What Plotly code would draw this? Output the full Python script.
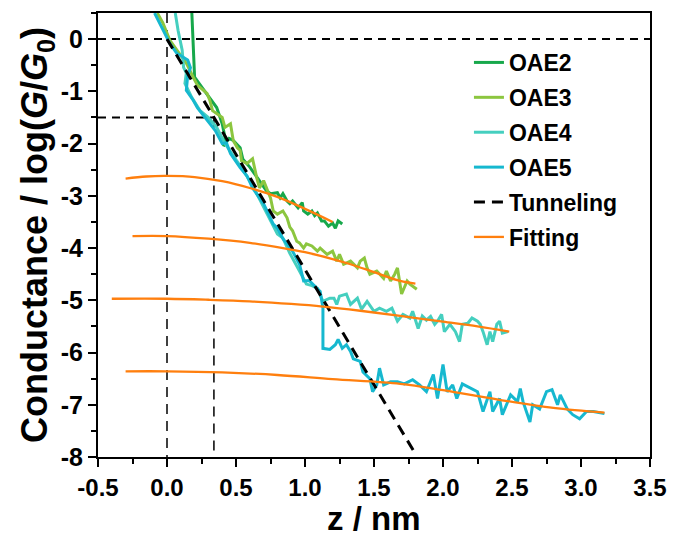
import plotly.graph_objects as go

# ---------------- data ----------------
oae2_x = [0.18, 0.19, 0.20, 0.26, 0.30, 0.36, 0.40, 0.42, 0.41, 0.45, 0.48, 0.53, 0.55, 0.60, 0.64,
          0.68, 0.72, 0.75, 0.80, 0.82, 0.84, 0.87, 0.89, 0.91, 0.95, 0.98, 0.99, 1.02, 1.05, 1.07,
          1.09, 1.12, 1.14, 1.17, 1.20, 1.22, 1.24, 1.27]
oae2_y = [0.5, -0.2, -0.73, -0.95, -1.1, -1.31, -1.62, -1.88, -2.05, -1.9, -1.94, -2.08, -2.3, -2.45, -2.6,
          -2.75, -2.9, -2.96, -2.94, -3.04, -2.96, -3.1, -3.15, -3.1, -3.23, -3.13, -3.29, -3.35, -3.29, -3.38,
          -3.33, -3.48, -3.48, -3.58, -3.52, -3.62, -3.48, -3.54]

oae3_x = [-0.07, -0.03, 0.02, 0.07, 0.14, 0.19, 0.22, 0.29, 0.31, 0.33, 0.40, 0.42, 0.46, 0.48, 0.51,
          0.53, 0.54, 0.58, 0.62, 0.65, 0.67, 0.70, 0.72, 0.75, 0.77, 0.80, 0.84, 0.87, 0.89, 0.91,
          0.94, 0.96, 0.99, 1.01, 1.05, 1.09, 1.11, 1.16, 1.20, 1.23, 1.25, 1.28, 1.33, 1.38, 1.40,
          1.43, 1.45, 1.47, 1.52, 1.57, 1.59, 1.62, 1.65, 1.67, 1.70, 1.74, 1.76, 1.81]
oae3_y = [0.5, 0.31, -0.02, -0.21, -0.46, -0.73, -0.88, -1.04, -1.17, -1.37, -1.5, -1.69, -1.62, -1.94, -2.08,
          -2.13, -2.33, -2.38, -2.29, -2.65, -2.85, -2.71, -2.85, -3.04, -3.29, -3.35, -3.29, -3.42, -3.6, -3.67,
          -3.87, -3.9, -4.0, -3.92, -3.96, -4.06, -4.0, -4.12, -4.06, -4.25, -4.12, -4.31, -4.25, -4.38, -4.25,
          -4.19, -4.38, -4.5, -4.44, -4.58, -4.44, -4.63, -4.5, -4.38, -4.88, -4.63, -4.69, -4.79]

oae4_x = [0.06, 0.08, 0.11, 0.12, 0.14, 0.13, 0.18, 0.24, 0.30, 0.36, 0.42, 0.49, 0.55, 0.62, 0.68,
          0.74, 0.80, 0.84, 0.89, 0.96, 1.01, 1.05, 1.09, 1.13, 1.18, 1.21, 1.23, 1.25, 1.30, 1.33,
          1.38, 1.41, 1.45, 1.50, 1.54, 1.59, 1.63, 1.67, 1.71, 1.76, 1.78, 1.82, 1.85, 1.88, 1.91,
          1.94, 1.96, 1.99, 2.01, 2.05, 2.09, 2.12, 2.14, 2.18, 2.21, 2.25, 2.27, 2.29, 2.32, 2.34,
          2.36, 2.39, 2.41, 2.43, 2.47]
oae4_y = [0.5, 0.17, -0.21, -0.54, -0.65, -0.85, -1.12, -1.37, -1.5, -1.69, -2.0, -2.27, -2.5, -2.8, -3.1,
          -3.4, -3.73, -3.81, -4.1, -4.44, -4.69, -4.72, -4.77, -5.02, -4.96, -4.96, -5.08, -4.92, -4.88, -5.08,
          -4.96, -5.17, -5.02, -5.21, -5.15, -5.21, -5.15, -5.4, -5.27, -5.34, -5.21, -5.54, -5.3, -5.38, -5.31,
          -5.46, -5.4, -5.27, -5.6, -5.46, -5.6, -5.79, -5.46, -5.44, -5.34, -5.4, -5.46, -5.6, -5.85, -5.6,
          -5.79, -5.46, -5.4, -5.63, -5.6]

oae5_x = [-0.09, -0.05, -0.01, 0.02, 0.07, 0.11, 0.15, 0.17, 0.15, 0.14, 0.19, 0.22, 0.29, 0.35, 0.40,
          0.43, 0.46, 0.53, 0.58, 0.62, 0.67, 0.70, 0.77, 0.80, 0.84, 0.89, 0.91, 0.96, 0.99, 1.03,
          1.06, 1.11, 1.13, 1.13, 1.18, 1.22, 1.24, 1.27, 1.30, 1.33, 1.35, 1.40, 1.42, 1.47, 1.49,
          1.52, 1.54, 1.57, 1.62, 1.67, 1.72, 1.78, 1.83, 1.88, 1.93, 1.96, 2.00, 2.03, 2.07, 2.10,
          2.14, 2.20, 2.25, 2.29, 2.34, 2.36, 2.41, 2.43, 2.49, 2.54, 2.56, 2.58, 2.63, 2.65, 2.70,
          2.75, 2.79, 2.83, 2.85, 2.90, 2.94, 2.99, 3.04, 3.09, 3.17]
oae5_y = [0.5, 0.3, 0.08, -0.08, -0.27, -0.33, -0.4, -0.55, -0.7, -0.98, -1.17, -1.31, -1.56, -1.75, -2.0,
          -1.98, -2.19, -2.46, -2.62, -2.85, -3.04, -3.15, -3.54, -3.62, -3.82, -4.0, -4.06, -4.31, -4.63, -4.62,
          -4.7, -4.83, -5.15, -5.92, -5.94, -5.85, -5.75, -5.92, -5.85, -5.98, -6.12, -6.17, -6.37, -6.5, -6.75,
          -6.62, -6.3, -6.62, -6.56, -6.56, -6.6, -6.52, -6.62, -6.75, -6.42, -6.88, -6.23, -6.75, -6.62, -6.88,
          -6.6, -6.69, -6.75, -7.13, -6.75, -7.13, -6.88, -7.19, -6.81, -6.94, -6.69, -6.94, -7.33, -7.0, -7.08,
          -6.75, -6.71, -7.0, -6.81, -7.08, -7.19, -7.27, -7.13, -7.13, -7.17]

tunnel_x = [0.0, 1.8]
tunnel_y = [0.0, -7.94]

fit1_x = [-0.30, -0.15, 0.0, 0.2, 0.4, 0.6, 0.8, 1.0, 1.2]
fit1_y = [-2.67, -2.63, -2.62, -2.64, -2.72, -2.85, -3.02, -3.25, -3.5]
fit2_x = [-0.25, 0.0, 0.3, 0.6, 0.84, 1.0, 1.2, 1.33, 1.5, 1.69, 1.80]
fit2_y = [-3.77, -3.77, -3.82, -3.9, -4.0, -4.08, -4.21, -4.31, -4.46, -4.63, -4.68]
fit3_x = [-0.40, 0.0, 0.3, 0.6, 0.9, 1.13, 1.4, 1.69, 2.0, 2.25, 2.48]
fit3_y = [-4.97, -4.97, -4.99, -5.02, -5.07, -5.12, -5.2, -5.3, -5.41, -5.5, -5.6]
fit4_x = [-0.30, 0.0, 0.4, 0.8, 1.2, 1.69, 2.0, 2.4, 2.8, 3.17]
fit4_y = [-6.36, -6.36, -6.38, -6.43, -6.51, -6.6, -6.72, -6.9, -7.06, -7.15]

guide_h = [(0.0, -0.5, 3.5), (-1.5, -0.5, 0.34)]   # y, x0, x1
guide_v = [(0.0, 0.5, -8.0), (0.34, -1.5, -8.0)]   # x, y0, y1

x_ticks = [-0.5, 0.0, 0.5, 1.0, 1.5, 2.0, 2.5, 3.0, 3.5]
x_labels = ["-0.5", "0.0", "0.5", "1.0", "1.5", "2.0", "2.5", "3.0", "3.5"]
y_ticks = [0, -1, -2, -3, -4, -5, -6, -7, -8]
y_labels = ["0", "-1", "-2", "-3", "-4", "-5", "-6", "-7", "-8"]
x_title = "z / nm"
y_title = "Conductance / log(<i>G</i>/<i>G</i><sub>0</sub>)"

# ---------------- figure ----------------
FONT = "Arial, Liberation Sans, sans-serif"
fig = go.Figure()

series = [("OAE2", oae2_x, oae2_y, "#17a84b"),
          ("OAE3", oae3_x, oae3_y, "#8cc63f"),
          ("OAE4", oae4_x, oae4_y, "#45cfbf"),
          ("OAE5", oae5_x, oae5_y, "#16b8cf")]
for name, xs, ys, col in series:
    fig.add_trace(go.Scatter(x=xs, y=ys, mode="lines", name=name, legendgroup=name,
                             line=dict(color=col, width=3)))

fig.add_trace(go.Scatter(x=tunnel_x, y=tunnel_y, mode="lines", name="Tunneling", legendgroup="Tunneling",
                         line=dict(color="black", width=3, dash="11px,7px")))

for i, (xs, ys) in enumerate([(fit1_x, fit1_y), (fit2_x, fit2_y), (fit3_x, fit3_y), (fit4_x, fit4_y)]):
    fig.add_trace(go.Scatter(x=xs, y=ys, mode="lines", name="Fitting", legendgroup="Fitting",
                             showlegend=(i == 0),
                             line=dict(color="#ff7f0e", width=2.3, shape="spline")))

for y, x0, x1 in guide_h:
    fig.add_shape(type="line", x0=x0, x1=x1, y0=y, y1=y, xref="x", yref="y", layer="below",
                  line=dict(color="black", width=2, dash="8px,6px"))
for x, y0, y1 in guide_v:
    fig.add_shape(type="line", x0=x, x1=x, y0=y0, y1=y1, xref="x", yref="y", layer="below",
                  line=dict(color="black", width=1.5, dash="10px,7px"))

axis_common = dict(showline=True, linewidth=2, linecolor="black", mirror=True,
                   ticks="outside", ticklen=8, tickwidth=2, tickcolor="black",
                   showgrid=False, zeroline=False, automargin=False)

fig.update_xaxes(range=[-0.5, 3.5], tickmode="array", tickvals=x_ticks, ticktext=x_labels,
                 tickfont=dict(family=FONT, size=24, color="black", weight="bold"),
                 minor=dict(tickmode="linear", tick0=-0.5, dtick=0.25, ticks="outside", ticklen=5,
                            tickwidth=2, tickcolor="black", showgrid=False),
                 **axis_common)
fig.update_yaxes(range=[-8, 0.5], tickmode="array", tickvals=y_ticks, ticktext=y_labels,
                 tickfont=dict(family=FONT, size=25, color="black", weight="bold"),
                 minor=dict(tickmode="linear", tick0=0, dtick=0.5, ticks="outside", ticklen=5,
                            tickwidth=2, tickcolor="black", showgrid=False),
                 title=dict(text=y_title,
                            font=dict(family=FONT, size=36, color="black", weight="bold"),
                            standoff=2),
                 **axis_common)

# x-axis title as a paper-anchored text just under the tick labels
fig.add_annotation(text=x_title, xref="paper", yref="paper", x=0.5, y=-0.185,
                   xanchor="center", yanchor="bottom", showarrow=False,
                   font=dict(family=FONT, size=33, color="black", weight="bold"))

fig.update_layout(
    width=673, height=537,
    margin=dict(l=98, r=23, t=13, b=80),
    plot_bgcolor="white", paper_bgcolor="white",
    legend=dict(x=0.672, y=0.937, xanchor="left", yanchor="top",
                bgcolor="rgba(0,0,0,0)", traceorder="grouped", tracegroupgap=2,
                font=dict(family=FONT, size=23, color="black", weight="bold")),
)

fig.write_html("out.html")
